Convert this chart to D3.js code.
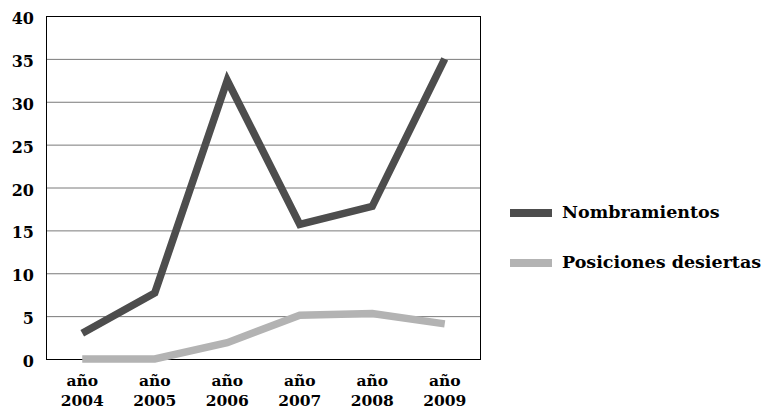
<!DOCTYPE html>
<html><head><meta charset="utf-8">
<script src="https://cdn.jsdelivr.net/npm/d3@7"></script>
<style>body{margin:0;background:#fff}svg text{font-family:"DejaVu Serif",serif;font-weight:bold;fill:#000}</style>
</head><body><svg id="c" width="765" height="410"></svg>
<script>
const years = ["2004","2005","2006","2007","2008","2009"];
const nombramientos = [3, 7.7, 32.5, 15.7, 17.8, 35];
const desiertas = [0, 0, 1.9, 5.1, 5.3, 4.1];
const yTicks = [0,5,10,15,20,25,30,35,40];
const seriesNames = ["Nombramientos","Posiciones desiertas"];
const colors = ["#4d4d4d","#b3b3b3"];

const svg = d3.select("#c");
const L=46,R=481,T=16,B=359;
const x = d3.scaleBand().domain(years).range([L,R]);
const y = d3.scaleLinear().domain([0,40]).range([B,T]);

svg.append("g").selectAll("line").data(yTicks.filter(d=>d>0&&d<40)).join("line")
 .attr("x1",L).attr("x2",R).attr("y1",d=>y(d)+0.5).attr("y2",d=>y(d)+0.5)
 .attr("stroke","#7a7a7a").attr("stroke-width",1);
svg.append("rect").attr("x",L+0.5).attr("y",T+0.5).attr("width",R-L-1).attr("height",B-T)
 .attr("fill","none").attr("stroke","#000").attr("stroke-width",1);

svg.append("g").selectAll("text").data(yTicks).join("text")
 .attr("x",34).attr("y",d=>y(d)+8).attr("text-anchor","end").attr("font-size",16).text(d=>d);

const xl = svg.append("g").selectAll("text").data(years).join("text")
 .attr("text-anchor","middle").attr("font-size",15.5);
xl.append("tspan").attr("x",d=>x(d)+x.bandwidth()/2).attr("y",386).text("año");
xl.append("tspan").attr("x",d=>x(d)+x.bandwidth()/2).attr("y",406).text(d=>d);

const line = d3.line().x((d,i)=>x(years[i])+x.bandwidth()/2).y(d=>y(d));
[nombramientos, desiertas].forEach((s,k)=>{
  svg.append("path").attr("d",line(s)).attr("fill","none").attr("stroke",colors[k])
   .attr("stroke-width",7.5).attr("stroke-linejoin","miter").attr("stroke-linecap","butt");
});

const ly=[213,263];
seriesNames.forEach((n,k)=>{
  svg.append("line").attr("x1",510).attr("x2",552).attr("y1",ly[k]).attr("y2",ly[k])
   .attr("stroke",colors[k]).attr("stroke-width",8);
  svg.append("text").attr("x",562).attr("y",ly[k]+5).attr("font-size",17.5).text(n);
});
</script></body></html>
